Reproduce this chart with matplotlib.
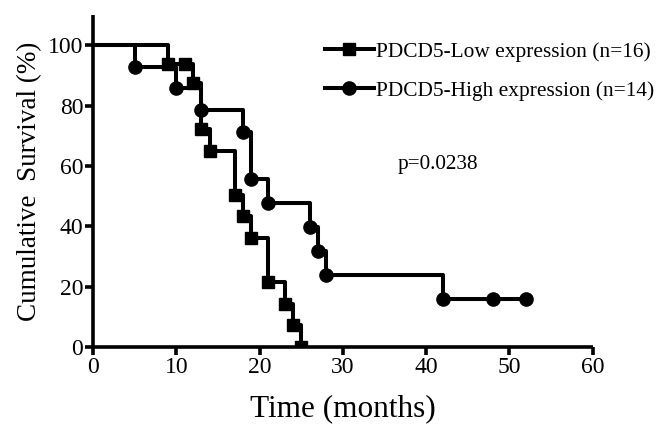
import matplotlib
matplotlib.use("Agg")
import matplotlib.pyplot as plt

# Data
low_t = [0, 9, 11, 12, 13, 14, 17, 18, 19, 21, 23, 24, 25]
low_s = [100, 93.8, 93.8, 87.5, 72.2, 65.0, 50.5, 43.3, 36.1, 21.7, 14.4, 7.2, 0]
high_t = [0, 5, 10, 13, 18, 19, 21, 26, 27, 28, 42, 48, 52]
high_s = [100, 92.9, 85.7, 78.6, 71.4, 55.6, 47.6, 39.7, 31.7, 23.8, 15.9, 15.9, 15.9]
x_ticks = [0, 10, 20, 30, 40, 50, 60]
y_ticks = [0, 20, 40, 60, 80, 100]
low_label = "PDCD5-Low expression (n=16)"
high_label = "PDCD5-High expression (n=14)"
p_text = "p=0.0238"

plt.rcParams['font.family'] = ['Liberation Serif', 'DejaVu Serif']

fig = plt.figure(figsize=(6.6, 4.3), dpi=100)
ax = fig.add_axes([0.141, 0.193, 0.757, 0.772])

lw = 2.9
ax.step(low_t, low_s, where='post', color='black', lw=lw, zorder=3)
ax.plot(low_t[1:], low_s[1:], ls='none', marker='s', ms=8.5, color='black', zorder=4)
ax.step(high_t, high_s, where='post', color='black', lw=lw, zorder=3)
ax.plot(high_t[1:], high_s[1:], ls='none', marker='o', ms=9.5, color='black', zorder=4)

ax.set_xlim(0, 60)
ax.set_ylim(0, 110)
ax.set_xticks(x_ticks)
ax.set_yticks(y_ticks)
for s in ['top', 'right']:
    ax.spines[s].set_visible(False)
for s in ['left', 'bottom']:
    ax.spines[s].set_linewidth(2.6)
    ax.spines[s].set_capstyle('butt')
ax.tick_params(axis='both', direction='out', length=6, width=2.6, labelsize=17, pad=1)

ax.set_xlabel("Time (months)", fontsize=22.5, labelpad=12)
ax.set_ylabel("Cumulative  Survival (%)", fontsize=19.5, labelpad=4)

h1, = ax.plot([], [], color='black', lw=lw, marker='s', ms=8.5)
h2, = ax.plot([], [], color='black', lw=lw, marker='o', ms=9.5)
leg = ax.legend([h1, h2], [low_label, high_label], loc='upper left',
                bbox_to_anchor=(0.493, 0.903), bbox_transform=fig.transFigure,
                frameon=False, fontsize=15.4, handlelength=2.25, handletextpad=0.1,
                labelspacing=0.9, borderaxespad=0, borderpad=0)

fig.text(0.603, 0.618, p_text, fontsize=15.3, ha='left', va='center')

fig.savefig("out.png", dpi=100)
